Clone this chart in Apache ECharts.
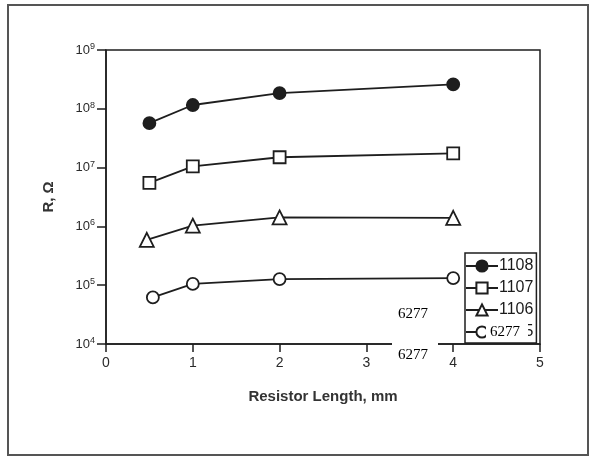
<!DOCTYPE html>
<html>
<head>
<meta charset="utf-8">
<script src="https://cdn.jsdelivr.net/npm/echarts@6/dist/echarts.min.js"></script>
<style>
html,body{margin:0;padding:0;background:#fff;}
#main{width:590px;height:457px;}
</style>
</head>
<body>
<div id="main"></div>
<script>
// values (x in mm, R in ohms)
var names = ['1108', '1107', '1106', '1105'];
var x1108 = [0.5, 1, 2, 4];
var r1108 = [5.7e7, 1.16e8, 1.85e8, 2.6e8];
var x1107 = [0.5, 1, 2, 4];
var r1107 = [5.5e6, 1.05e7, 1.5e7, 1.75e7];
var x1106 = [0.47, 1, 2, 4];
var r1106 = [5.9e5, 1.03e6, 1.42e6, 1.4e6];
var x1105 = [0.54, 1, 2, 4];
var r1105 = [6.2e4, 1.05e5, 1.27e5, 1.32e5];

var ink = '#1e1e1e';
var fnt = '"Liberation Sans Narrow", "Liberation Sans", Arial, sans-serif';

function pairs(xs, ys){
	var out = [];
	for(var i=0;i<xs.length;i++){
		out.push([xs[i], ys[i]]);
	}
	return out;
}

function line(name, xs, ys, symbol, fill){
	return {
		name: name,
		type: 'line',
		data: pairs(xs, ys),
		symbol: symbol,
		symbolSize: symbol=='triangle' ? 14 : 12,
		lineStyle: {color: ink, width: 1.8},
		itemStyle: {color: fill, borderColor: ink, borderWidth: 1.8},
		emphasis: {disabled: true},
		z: 3
	};
}

var myChart = echarts.init(document.getElementById('main'));
var option = {
	animation: false,
	grid: {
		left: 106, right: 50, top: 50, bottom: 113,
		show: true, borderColor: ink, borderWidth: 1.5
	},
	xAxis: {
		type: 'value', min: 0, max: 5, interval: 1,
		axisLine: {lineStyle: {color: ink, width: 1.5}},
		axisTick: {show: true, length: 8, lineStyle: {color: ink, width: 1.5}},
		splitLine: {show: false},
		axisLabel: {color: '#2a2a2a', fontSize: 14, fontFamily: fnt, margin: 12},
		name: 'Resistor Length, mm',
		nameLocation: 'middle',
		nameGap: 45,
		nameTextStyle: {color: '#333', fontSize: 15, fontWeight: 'bold', fontFamily: fnt}
	},
	yAxis: {
		type: 'log', logBase: 10, min: 1e4, max: 1e9,
		axisLine: {lineStyle: {color: ink, width: 1.5}},
		axisTick: {show: true, length: 9, lineStyle: {color: ink, width: 1.5}},
		splitLine: {show: false},
		minorTick: {show: false},
		axisLabel: {
			margin: 11,
			formatter: function(v){
				var e = Math.round(Math.log(v)/Math.LN10);
				return '{b|10}{s|' + e + '}';
			},
			rich: {
				b: {color: '#2a2a2a', fontSize: 13, fontFamily: fnt},
				s: {color: '#2a2a2a', fontSize: 9, fontFamily: fnt, verticalAlign: 'top', padding: [0,0,7,0]}
			}
		},
		name: 'R, Ω',
		nameLocation: 'middle',
		nameRotate: 90,
		nameGap: 50,
		nameTextStyle: {color: '#333', fontSize: 15, fontWeight: 'bold', fontFamily: fnt}
	},
	legend: {
		left: 465, top: 253,
		orient: 'vertical',
		data: names,
		itemWidth: 32, itemHeight: 14, itemGap: 6,
		padding: [5, 3, 3, 0],
		borderColor: ink, borderWidth: 1.5,
		backgroundColor: '#fff',
		textStyle: {color: '#1a1a1a', fontSize: 16, fontFamily: fnt, padding: [0,0,0,-4]},
		selectedMode: false
	},
	series: [
		line(names[0], x1108, r1108, 'circle', ink),
		line(names[1], x1107, r1107, 'rect', '#fff'),
		line(names[2], x1106, r1106, 'triangle', '#fff'),
		line(names[3], x1105, r1105, 'circle', '#fff')
	],
	graphic: [
		{type: 'rect', shape: {x: 8, y: 5, width: 580, height: 450},
			style: {fill: 'none', stroke: '#555', lineWidth: 2}, silent: true},
		{type: 'text', left: 395, top: 305, z: 10,
			style: {text: '6277', fill: '#000', font: '15px "Liberation Serif", serif', backgroundColor: '#fff', padding: [2,3]}},
		{type: 'text', left: 392, top: 340, z: 10,
			style: {text: '6277', fill: '#000', font: '15px "Liberation Serif", serif', backgroundColor: '#fff', padding: [8,10,10,6]}},
		{type: 'text', left: 486, top: 322, z: 10,
			style: {text: '6277', fill: '#000', font: '15px "Liberation Serif", serif', backgroundColor: '#fff', padding: [3,8,2,4]}}
	]
};
myChart.setOption(option);
</script>
</body>
</html>
